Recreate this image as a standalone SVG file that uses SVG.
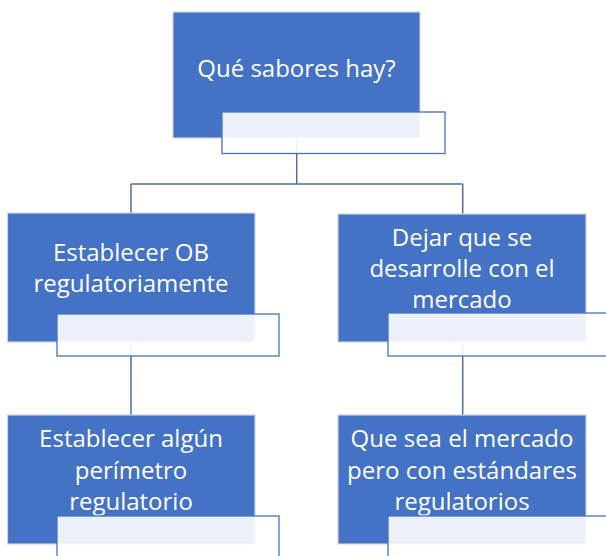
<svg xmlns="http://www.w3.org/2000/svg" width="606" height="556" viewBox="0 0 606 556">
<style>
.box{fill:#4472C4;stroke:#D0D4DA;stroke-width:1.2}
.lbl{fill:#FFFFFF;fill-opacity:0.9;stroke:#4472C4;stroke-width:1.3}
.t{font-family:"Open Sans","Noto Sans",sans-serif;font-size:24px;fill:#FFFFFF;text-anchor:middle}
.c{fill:none;stroke:#4F6EA8;stroke-width:1.5}
</style>
<rect width="606" height="556" fill="#FFFFFF"/>
<g id="connectors">
<path class="c" d="M296.7,138 V184 M131,184 H462.7 M131,184 V213 M462.7,184 V214 M131,342 V415 M462.7,342 V415"/>
</g>
<g id="n1">
<rect class="box" x="173" y="12" width="247" height="126"/>
<text class="t" x="296.5" y="77">Qué sabores hay?</text>
<rect class="lbl" x="222" y="112" width="223" height="41.5"/>
</g>
<g id="n2">
<rect class="box" x="7.5" y="213" width="247.5" height="129"/>
<text class="t" x="131" y="261">Establecer OB</text>
<text class="t" x="131" y="292">regulatoriamente</text>
<rect class="lbl" x="57" y="314" width="222" height="42"/>
</g>
<g id="n3">
<rect class="box" x="338" y="214" width="248" height="128"/>
<text class="t" x="462" y="246">Dejar que se</text>
<text class="t" x="462" y="277">desarrolle con el</text>
<text class="t" x="462" y="308">mercado</text>
<rect class="lbl" x="388" y="313" width="230" height="43"/>
</g>
<g id="n4">
<rect class="box" x="7.5" y="415" width="247.5" height="129"/>
<text class="t" x="131" y="447">Establecer algún</text>
<text class="t" x="131" y="479">perímetro</text>
<text class="t" x="131" y="510">regulatorio</text>
<rect class="lbl" x="57" y="516" width="222" height="50"/>
</g>
<g id="n5">
<rect class="box" x="338" y="415" width="248" height="129"/>
<text class="t" x="462" y="447">Que sea el mercado</text>
<text class="t" x="462" y="479">pero con estándares</text>
<text class="t" x="462" y="510">regulatorios</text>
<rect class="lbl" x="388" y="516" width="230" height="50"/>
</g>
</svg>
